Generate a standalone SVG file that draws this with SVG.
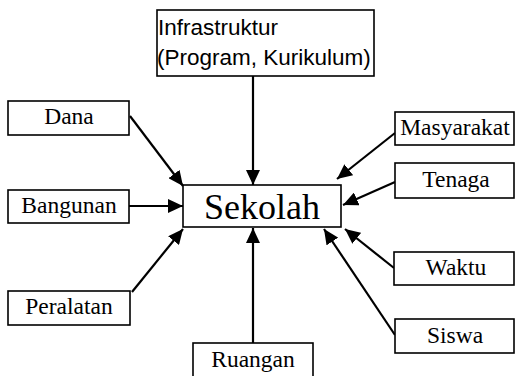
<svg xmlns="http://www.w3.org/2000/svg" width="515" height="376" viewBox="0 0 515 376">
  <style>
    .box { fill: #ffffff; stroke: #000000; stroke-width: 1.6; }
    .lbl { font-family: "Liberation Serif", "Times New Roman", serif; font-size: 23.5px; fill: #000000; text-anchor: middle; }
    .main { font-family: "Liberation Serif", "Times New Roman", serif; font-size: 36px; fill: #000000; text-anchor: middle; }
    .sans { font-family: "Liberation Sans", Arial, sans-serif; font-size: 22.5px; fill: #000000; }
    .edge { stroke: #000000; stroke-width: 2.2; fill: none; marker-end: url(#head); }
  </style>
  <defs>
    <marker id="head" markerUnits="userSpaceOnUse" markerWidth="16" markerHeight="14" refX="15" refY="7" orient="auto">
      <path d="M0,0 L15,7 L0,14 z" fill="#000000"/>
    </marker>
  </defs>
  <rect width="515" height="376" fill="#ffffff"/>

  <g id="connectors">
    <line class="edge" x1="253" y1="76" x2="253" y2="185"/>
    <line class="edge" x1="130" y1="116" x2="183" y2="186"/>
    <line class="edge" x1="129" y1="206" x2="183" y2="206"/>
    <line class="edge" x1="132" y1="292" x2="183" y2="229"/>
    <line class="edge" x1="253" y1="343" x2="253" y2="228"/>
    <line class="edge" x1="395" y1="335" x2="324" y2="229"/>
    <line class="edge" x1="394" y1="268" x2="345" y2="229"/>
    <line class="edge" x1="395" y1="182" x2="343" y2="205"/>
    <line class="edge" x1="395" y1="133" x2="337" y2="179"/>
  </g>

  <g id="infrastruktur">
    <rect class="box" x="157" y="10" width="217" height="66"/>
    <text class="sans" x="158" y="35">Infrastruktur</text>
    <text class="sans" x="157" y="65">(Program, Kurikulum)</text>
  </g>

  <g id="sekolah">
    <rect class="box" x="183" y="185" width="158" height="42"/>
    <text class="main" x="262" y="219">Sekolah</text>
  </g>

  <g id="dana">
    <rect class="box" x="8" y="101" width="121" height="34"/>
    <text class="lbl" x="69" y="124">Dana</text>
  </g>

  <g id="bangunan">
    <rect class="box" x="8" y="190" width="121" height="33"/>
    <text class="lbl" x="69" y="213">Bangunan</text>
  </g>

  <g id="peralatan">
    <rect class="box" x="8" y="291" width="122" height="34"/>
    <text class="lbl" x="69" y="314">Peralatan</text>
  </g>

  <g id="ruangan">
    <rect class="box" x="193" y="343" width="120" height="38"/>
    <text class="lbl" x="253" y="367">Ruangan</text>
  </g>

  <g id="masyarakat">
    <rect class="box" x="395" y="112" width="119" height="33"/>
    <text class="lbl" x="455" y="135">Masyarakat</text>
  </g>

  <g id="tenaga">
    <rect class="box" x="395" y="163" width="119" height="35"/>
    <text class="lbl" x="456" y="187">Tenaga</text>
  </g>

  <g id="waktu">
    <rect class="box" x="394" y="252" width="120" height="33"/>
    <text class="lbl" x="456" y="275">Waktu</text>
  </g>

  <g id="siswa">
    <rect class="box" x="395" y="319" width="119" height="34"/>
    <text class="lbl" x="455" y="343">Siswa</text>
  </g>
</svg>
